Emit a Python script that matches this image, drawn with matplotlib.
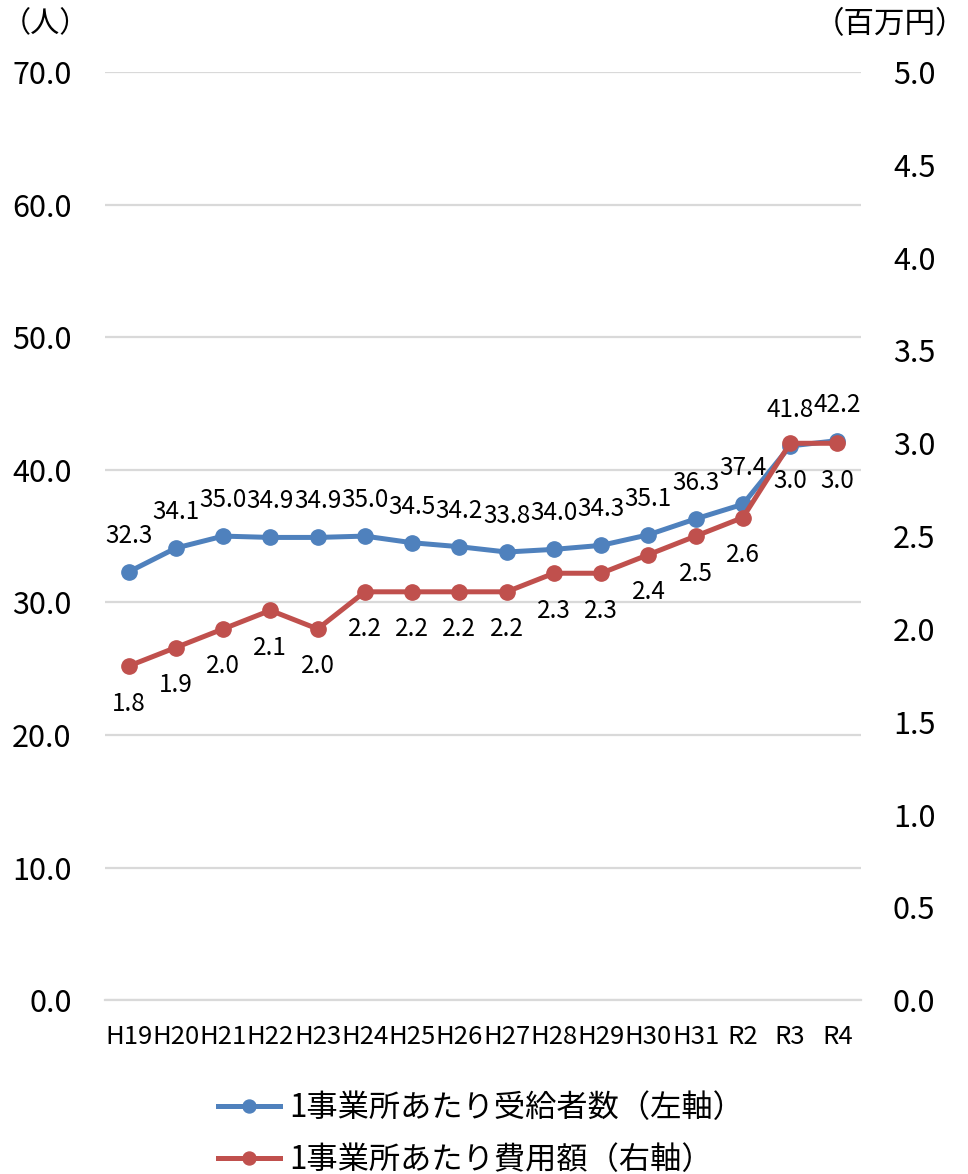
import numpy as np
import matplotlib
matplotlib.use('Agg')
import matplotlib.pyplot as plt

plt.rcParams['font.family'] = ['Noto Sans CJK JP', 'DejaVu Sans']

# years and the two series
years = ['H19', 'H20', 'H21', 'H22', 'H23', 'H24', 'H25', 'H26', 'H27', 'H28',
         'H29', 'H30', 'H31', 'R2', 'R3', 'R4']
recipients = [32.3, 34.1, 35.0, 34.9, 34.9, 35.0, 34.5, 34.2, 33.8, 34.0,
              34.3, 35.1, 36.3, 37.4, 41.8, 42.2]
cost = [1.8, 1.9, 2.0, 2.1, 2.0, 2.2, 2.2, 2.2, 2.2, 2.3,
        2.3, 2.4, 2.5, 2.6, 3.0, 3.0]
left_ticks = np.arange(0, 71, 10)
right_ticks = np.arange(0, 5.01, 0.5)

blue = '#4F81BD'
red = '#C0504D'
gridc = '#D9D9D9'

fig = plt.figure(figsize=(9.68, 11.74), dpi=100)
ax = fig.add_axes([0.1085, 0.148, 0.781, 0.7907])
ax2 = ax.twinx()

x = np.arange(len(years))
l1, = ax.plot(x, recipients, color=blue, lw=3.6, marker='o', ms=11,
              label='1事業所あたり受給者数（左軸）', zorder=3)
l2, = ax2.plot(x, cost, color=red, lw=3.6, marker='o', ms=11,
               label='1事業所あたり費用額（右軸）', zorder=3)

for xi, v in zip(x, recipients):
    ax.annotate(f'{v:.1f}', (xi, v), xytext=(0, 26), textcoords='offset points',
                ha='center', va='center', fontsize=17.5)
for xi, v in zip(x, cost):
    ax2.annotate(f'{v:.1f}', (xi, v), xytext=(0, -27), textcoords='offset points',
                 ha='center', va='center', fontsize=17.5)

ax.set_xlim(-0.5, len(years) - 0.5)
ax.set_ylim(0, 70)
ax2.set_ylim(0, 5)
ax.set_yticks(left_ticks)
ax.set_yticklabels([f'{t:.1f}' for t in left_ticks])
ax2.set_yticks(right_ticks)
ax2.set_yticklabels([f'{t:.1f}' for t in right_ticks])
ax.set_xticks(x)
ax.set_xticklabels(years)

ax.tick_params(axis='y', length=0, pad=24, labelsize=22)
ax2.tick_params(axis='y', length=0, pad=23, labelsize=22)
ax.tick_params(axis='x', length=0, pad=17, labelsize=18.5)

ax.grid(axis='y', color=gridc, lw=1.6)
ax.set_axisbelow(True)
for a in (ax, ax2):
    for s in a.spines.values():
        s.set_visible(False)
ax.spines['bottom'].set_visible(True)
ax.spines['bottom'].set_color(gridc)
ax.spines['bottom'].set_linewidth(1.6)

fig.text(0.002, 0.979, '（人）', fontsize=21, ha='left', va='center')
fig.text(0.998, 0.979, '（百万円）', fontsize=22, ha='right', va='center')

fig.legend(handles=[l1, l2], loc='center', bbox_to_anchor=(0.497, 0.034),
           frameon=False, fontsize=22.5, handlelength=2.0, handletextpad=0.3,
           labelspacing=0.62, markerscale=0.85)

fig.savefig('out.png', dpi=100)
